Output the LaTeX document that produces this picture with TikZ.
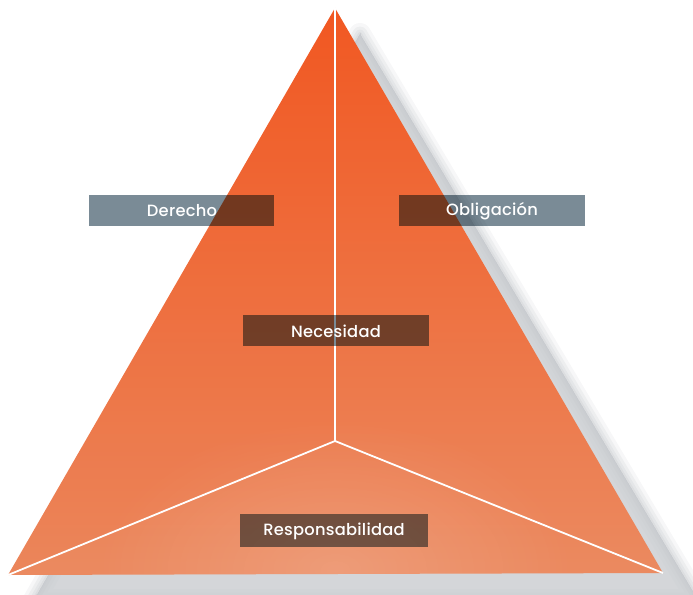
\documentclass[tikz,border=0pt]{standalone}
\usepackage{fontspec}
\setmainfont{Poppins}[UprightFont=* Medium, LetterSpace=1.5]
\usetikzlibrary{fadings}
\definecolor{tagbase}{RGB}{122,139,150}
\definecolor{shadowgray}{RGB}{196,199,203}
\definecolor{facetop}{RGB}{241,88,34}
\definecolor{facebottom}{RGB}{235,138,96}
\tikzfading[name=softglow, inner color=transparent!0, outer color=transparent!100]
\tikzset{
  tag/.style={fill=tagbase, blend mode=multiply},
  taglabel/.style={text=white, font=\fontsize{16.3}{16.3}\selectfont},
  edge/.style={draw=white, line width=1.8pt},
}
\begin{document}
\begin{tikzpicture}[x=1pt,y=-1pt]
\useasboundingbox (0,0) rectangle (693,594);
\coordinate (apex) at (335,8);
\coordinate (bl) at (8,575);
\coordinate (br) at (663,573);
\coordinate (ctr) at (335,441);
% soft drop shadow
\foreach \w/\op in {22/0.14,15/0.18,9/0.22,4/0.26,0/0.35}
  \filldraw[shadowgray, opacity=\op, line width=\w pt, line join=round]
    (360,34) -- (34,600) -- (698,600) -- cycle;
% pyramid faces
\shade[top color=facetop, bottom color=facebottom] (apex) -- (bl) -- (br) -- cycle;
\begin{scope}
  \clip (apex) -- (bl) -- (br) -- cycle;
  \fill[white, opacity=0.16, path fading=softglow]
    (335,570) ellipse (240 and 150);
  \fill[facetop, opacity=0.08] (0,0) -- (335,0) -- (335,441) -- (8,575) -- cycle;
\end{scope}
\draw[edge] (apex) -- (ctr);
\draw[edge] (ctr) -- (bl);
\draw[edge] (ctr) -- (br);
% labels
\fill[tag] (89,195) rectangle (274,226);
\fill[tag] (399,195) rectangle (585,226);
\fill[tag] (243,315) rectangle (429,346);
\fill[tag] (240,514) rectangle (428,547);
\node[taglabel] (der) at (182,211) {Derecho};
\node[taglabel] (obl) at (492,211) {Obligación};
\node[taglabel] (nec) at (336,331) {Necesidad};
\node[taglabel] (res) at (334,531) {Responsabilidad};
\end{tikzpicture}
\end{document}
